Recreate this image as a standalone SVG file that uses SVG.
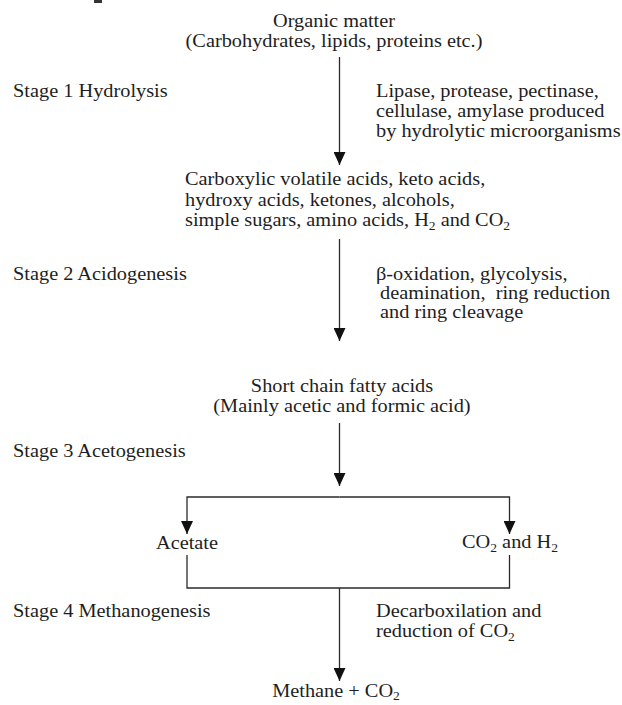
<svg xmlns="http://www.w3.org/2000/svg" width="622" height="705" viewBox="0 0 622 705">
<style>
text{font-family:"Liberation Serif","Times New Roman",serif;font-size:18px;fill:#1e1e1e}
.c{text-anchor:middle}
.pre{white-space:pre}
.sub{font-size:12px}
.ln{fill:none;stroke:#2a2a2a;stroke-width:1.3}
</style>
<defs>
<marker id="ah" markerUnits="userSpaceOnUse" markerWidth="14" markerHeight="12" refX="13" refY="6" orient="auto">
<path d="M0,0 L13,6 L0,12 z" fill="#111"/>
</marker>
</defs>
<rect x="94" y="0" width="8" height="3" fill="#333"/>
<g id="connectors">
<path class="ln" d="M339.5,57 V165" marker-end="url(#ah)"/>
<path class="ln" d="M339.5,239 V341" marker-end="url(#ah)"/>
<path class="ln" d="M339.5,423 V486" marker-end="url(#ah)"/>
<path class="ln" d="M339.5,497 H187 V534" marker-end="url(#ah)"/>
<path class="ln" d="M339.5,497 H509.5 V534" marker-end="url(#ah)"/>
<path class="ln" d="M187,555 V588 H509.5 V555"/>
<path class="ln" d="M339.5,588 V681" marker-end="url(#ah)"/>
</g>
<g id="organic">
<text class="c" transform="translate(334,27) scale(1.13,1)">Organic matter</text>
<text class="c" transform="translate(334,47) scale(1.13,1)">(Carbohydrates, lipids, proteins etc.)</text>
</g>
<g id="stage1">
<text transform="translate(13,97) scale(1.13,1)">Stage 1 Hydrolysis</text>
</g>
<g id="enzymes">
<text transform="translate(376,97) scale(1.13,1)">Lipase, protease, pectinase,</text>
<text transform="translate(376,117) scale(1.13,1)">cellulase, amylase produced</text>
<text transform="translate(376,137) scale(1.13,1)">by hydrolytic microorganisms</text>
</g>
<g id="products">
<text transform="translate(185,185) scale(1.13,1)">Carboxylic volatile acids, keto acids,</text>
<text transform="translate(185,206) scale(1.13,1)">hydroxy acids, ketones, alcohols,</text>
<text transform="translate(185,226) scale(1.13,1)">simple sugars, amino acids, H<tspan class="sub" dy="4">2</tspan><tspan dy="-4"> and CO</tspan><tspan class="sub" dy="4">2</tspan></text>
</g>
<g id="stage2">
<text transform="translate(13,280) scale(1.13,1)">Stage 2 Acidogenesis</text>
</g>
<g id="processes">
<text transform="translate(376,280) scale(1.13,1)">β-oxidation, glycolysis,</text>
<text class="pre" transform="translate(380,299) scale(1.13,1)">deamination,  ring reduction</text>
<text transform="translate(380,318) scale(1.13,1)">and ring cleavage</text>
</g>
<g id="scfa">
<text class="c" transform="translate(342,392) scale(1.13,1)">Short chain fatty acids</text>
<text class="c" transform="translate(342,412) scale(1.13,1)">(Mainly acetic and formic acid)</text>
</g>
<g id="stage3">
<text transform="translate(13,457) scale(1.13,1)">Stage 3 Acetogenesis</text>
</g>
<g id="acetate">
<text class="c" transform="translate(187,549) scale(1.13,1)">Acetate</text>
</g>
<g id="co2h2">
<text class="c" transform="translate(510,548) scale(1.13,1)">CO<tspan class="sub" dy="4">2</tspan><tspan dy="-4"> and H</tspan><tspan class="sub" dy="4">2</tspan></text>
</g>
<g id="stage4">
<text transform="translate(13,617) scale(1.13,1)">Stage 4 Methanogenesis</text>
</g>
<g id="decarb">
<text transform="translate(376,617) scale(1.13,1)">Decarboxilation and</text>
<text transform="translate(376,637) scale(1.13,1)">reduction of CO<tspan class="sub" dy="4">2</tspan></text>
</g>
<g id="methane">
<text class="c" transform="translate(336,697) scale(1.13,1)">Methane + CO<tspan class="sub" dy="3">2</tspan></text>
</g>
</svg>
